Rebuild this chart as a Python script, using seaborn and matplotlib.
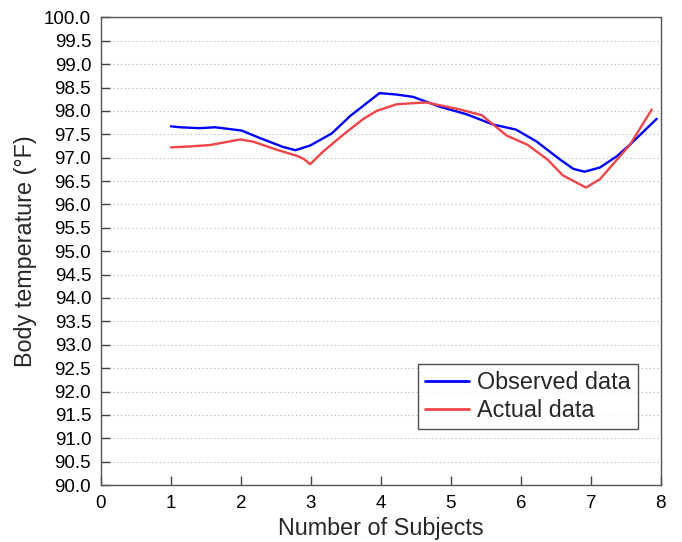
import matplotlib
matplotlib.use("Agg")
import matplotlib.pyplot as plt
import seaborn as sns
import pandas as pd

observed_x = [1.0, 1.13, 1.41, 1.63, 2.01, 2.27, 2.6, 2.78, 2.99, 3.3, 3.56, 3.98, 4.22,
              4.46, 4.84, 5.22, 5.6, 5.93, 6.22, 6.56, 6.75, 6.91, 7.13, 7.37, 7.56, 7.94]
observed_y = [97.67, 97.65, 97.63, 97.65, 97.58, 97.42, 97.23, 97.16, 97.26, 97.52, 97.89, 98.38, 98.35,
              98.30, 98.09, 97.93, 97.71, 97.60, 97.35, 96.96, 96.76, 96.70, 96.79, 97.03, 97.28, 97.83]
actual_x = [1.0, 1.27, 1.56, 1.99, 2.18, 2.51, 2.8, 2.9, 2.99, 3.18, 3.47, 3.75, 3.94, 4.22,
            4.41, 4.65, 5.13, 5.44, 5.8, 6.09, 6.38, 6.6, 6.93, 7.13, 7.56, 7.87]
actual_y = [97.22, 97.24, 97.27, 97.39, 97.34, 97.17, 97.04, 96.97, 96.86, 97.14, 97.50, 97.83, 98.0, 98.14,
            98.16, 98.18, 98.03, 97.91, 97.47, 97.28, 96.96, 96.62, 96.36, 96.54, 97.28, 98.03]
series_names = ["Observed data", "Actual data"]
y_ticks = [90.0 + 0.5 * i for i in range(21)]
x_ticks = [0, 1, 2, 3, 4, 5, 6, 7, 8]

df = pd.concat([
    pd.DataFrame({"x": observed_x, "y": observed_y, "series": series_names[0]}),
    pd.DataFrame({"x": actual_x, "y": actual_y, "series": series_names[1]}),
])

sns.set_theme(style="white")
plt.rcParams["font.family"] = ["Liberation Sans", "DejaVu Sans"]

fig = plt.figure(figsize=(6.82, 5.42), dpi=100)
ax = fig.add_axes([0.148, 0.105, 0.821, 0.863])

sns.lineplot(data=df, x="x", y="y", hue="series", sort=False, estimator=None,
             palette={"Observed data": "#0000ff", "Actual data": "#f04448"},
             linewidth=1.7, ax=ax)

ax.set_xlim(0, 8)
ax.set_ylim(90, 100)
ax.set_xticks(x_ticks)
ax.set_xticklabels([str(t) for t in x_ticks])
ax.set_yticks(y_ticks)
ax.set_yticklabels([f"{t:.1f}" for t in y_ticks])
ax.tick_params(direction="in", length=6.5, width=1.0, color="#444444",
               labelsize=13.5, labelcolor="black", pad=7, top=False, right=False,
               bottom=True, left=True)
ax.yaxis.grid(True, linestyle=(0, (1, 2.5)), color="#b4b4b4", linewidth=0.8)
ax.xaxis.grid(False)
for s in ax.spines.values():
    s.set_color("#555555")
    s.set_linewidth(1.0)

ax.set_xlabel("Number of Subjects", fontsize=16.8, labelpad=4)
ax.set_ylabel("Body temperature (°F)", fontsize=16.8, labelpad=5)

leg = ax.legend(loc="upper left", bbox_to_anchor=(0.566, 0.259), borderaxespad=0,
                fontsize=16.8, frameon=True, fancybox=False, handlelength=1.9,
                handletextpad=0.35, borderpad=0.3, labelspacing=0.22)
leg.get_frame().set_edgecolor("#222222")
leg.get_frame().set_linewidth(1.0)
for l in leg.get_lines():
    l.set_linewidth(2.0)

fig.savefig("out.png", dpi=100)
